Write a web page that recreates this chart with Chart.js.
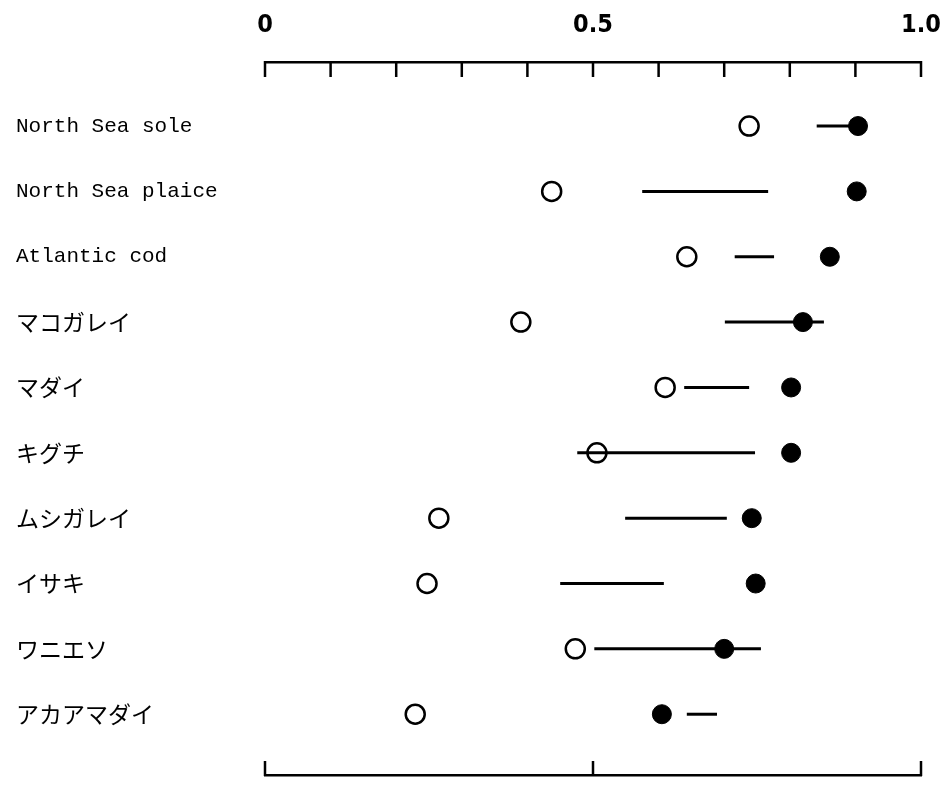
<!DOCTYPE html>
<html><head><meta charset="utf-8">
<script src="https://cdn.jsdelivr.net/npm/chart.js@4"></script>
<style>html,body{margin:0;padding:0;background:#fff}#wrap{width:940px;height:788px}</style>
</head><body><div id="wrap"><canvas id="c" width="940" height="788"></canvas></div>
<script>
const categories = ["North Sea sole","North Sea plaice","Atlantic cod","マコガレイ","マダイ","キグチ","ムシガレイ","イサキ","ワニエソ","アカアマダイ"];
const openValues   = [0.738, 0.437, 0.643, 0.390, 0.610, 0.506, 0.265, 0.247, 0.473, 0.229];
const filledValues = [0.904, 0.902, 0.861, 0.820, 0.802, 0.802, 0.742, 0.748, 0.700, 0.605];
const rangeLow     = [0.841, 0.575, 0.716, 0.701, 0.639, 0.476, 0.549, 0.450, 0.502, 0.643];
const rangeHigh    = [0.904, 0.767, 0.776, 0.852, 0.738, 0.747, 0.704, 0.608, 0.756, 0.689];
const topTickLabels = {0: "0", 0.5: "0.5", 1: "1.0"};
const bottomTickValues = [0, 0.5, 1];

const rangeSets = categories.map((c, i) => ({
  type: 'scatter', showLine: true,
  data: [{x: rangeLow[i], y: i}, {x: rangeHigh[i], y: i}],
  borderColor: '#000', borderWidth: 3, pointRadius: 0, borderCapStyle: 'butt', order: 2
}));

const tickPlugin = {
  id: 'inwardTicks',
  afterDraw(chart) {
    const ctx = chart.ctx, a = chart.chartArea;
    const xs = chart.scales.x, xb = chart.scales.x2;
    ctx.save();
    ctx.strokeStyle = '#000';
    ctx.lineWidth = 2.5;
    xs.ticks.forEach(t => {
      const px = xs.getPixelForValue(t.value);
      ctx.beginPath(); ctx.moveTo(px, a.top - 1); ctx.lineTo(px, a.top + 15); ctx.stroke();
    });
    bottomTickValues.forEach(v => {
      const px = xb.getPixelForValue(v);
      ctx.beginPath(); ctx.moveTo(px, a.bottom + 1); ctx.lineTo(px, a.bottom - 14); ctx.stroke();
    });
    ctx.restore();
  }
};

const isKana = (s) => /[\u3040-\u30FF]/.test(s || '');

new Chart(document.getElementById('c'), {
  type: 'scatter',
  data: {
    datasets: [
      ...rangeSets,
      { data: openValues.map((v, i) => ({x: v, y: i})), pointRadius: 9.5, pointBorderWidth: 2.5,
        pointBorderColor: '#000', pointBackgroundColor: 'rgba(0,0,0,0)', order: 1 },
      { data: filledValues.map((v, i) => ({x: v, y: i})), pointRadius: 9.5, pointBorderWidth: 1,
        pointBorderColor: '#000', pointBackgroundColor: '#000', order: 0 }
    ]
  },
  options: {
    responsive: false, animation: false, devicePixelRatio: 1,
    layout: {padding: {left: 16, right: 19, top: 0, bottom: 13}},
    plugins: {legend: {display: false}, tooltip: {enabled: false}},
    scales: {
      x: {
        type: 'linear', position: 'top', min: 0, max: 1,
        ticks: {stepSize: 0.1, autoSkip: false, maxRotation: 0, padding: 14, color: '#000',
          font: {family: "'DejaVu Sans Condensed','Liberation Sans Narrow',sans-serif", weight: 'bold', size: 25},
          callback: (v) => { const k = Math.round(v * 10) / 10; return topTickLabels[k] !== undefined ? topTickLabels[k] : ''; }},
        grid: {display: false},
        border: {display: true, color: '#000', width: 2.5},
        afterFit: (s) => { s.height = 62; s.paddingLeft = 0; s.paddingRight = 0; }
      },
      x2: {
        type: 'linear', position: 'bottom', min: 0, max: 1,
        ticks: {display: false}, grid: {display: false},
        border: {display: true, color: '#000', width: 2.5},
        afterFit: (s) => { s.height = 0; s.paddingLeft = 0; s.paddingRight = 0; }
      },
      y: {
        type: 'linear', reverse: true, min: -0.98, max: 9.93,
        afterBuildTicks: (s) => { s.ticks = categories.map((c, i) => ({value: i})); },
        ticks: {crossAlign: 'far', color: '#000', padding: 0,
          font: (ctx) => isKana(categories[ctx.index])
            ? {family: "'Noto Sans CJK JP',sans-serif", size: 23}
            : {family: "'Liberation Mono',monospace", size: 21},
          callback: (v) => categories[v]},
        grid: {display: false}, border: {display: false},
        afterFit: (s) => { s.width = 249; s.paddingTop = 0; s.paddingBottom = 0; }
      }
    }
  },
  plugins: [tickPlugin]
});
</script></body></html>
